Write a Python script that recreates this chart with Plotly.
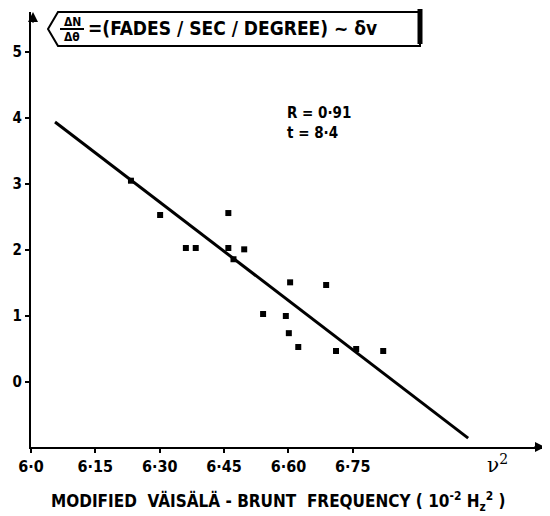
import plotly.graph_objects as go

# Data
freq = [6.233, 6.301, 6.460, 6.361, 6.384, 6.460, 6.497, 6.472, 6.604, 6.688,
        6.541, 6.594, 6.601, 6.623, 6.711, 6.758, 6.821]
fades = [3.05, 2.53, 2.56, 2.03, 2.03, 2.03, 2.01, 1.86, 1.51, 1.47,
         1.03, 1.0, 0.74, 0.53, 0.47, 0.50, 0.47]
fit_x = [6.056, 7.019]
fit_y = [3.94, -0.85]
x_ticks = [6.0, 6.15, 6.30, 6.45, 6.60, 6.75]
x_ticktext = ["6·0", "6·15", "6·30", "6·45", "6·60", "6·75"]
y_ticks = [0, 1, 2, 3, 4, 5]

OFF = 8  # page body margin
W, H = 550 - OFF, 516 - OFF
L, R, T, B = 31 - OFF, 5, 12 - OFF, 69
pw, ph = W - L - R, H - T - B

def px(x):
    return (x - OFF - L) / pw

def py(y):
    return (H - B - (y - OFF)) / ph

FONT = "DejaVu Sans Condensed, DejaVu Sans, Arial, sans-serif"

fig = go.Figure()
fig.add_trace(go.Scatter(x=fit_x, y=fit_y, mode="lines",
                         line=dict(color="black", width=3), hoverinfo="skip"))
fig.add_trace(go.Scatter(x=freq, y=fades, mode="markers",
                         marker=dict(symbol="square", size=6, color="black")))

fig.update_layout(
    width=W, height=H,
    margin=dict(l=L, r=R, t=T, b=B, autoexpand=False),
    paper_bgcolor="white", plot_bgcolor="white",
    showlegend=False,
    font=dict(family=FONT, color="black"),
    xaxis=dict(range=[6.0, 6.0 + pw / 429], tickvals=x_ticks, ticktext=x_ticktext,
               automargin=False,
               showgrid=False, zeroline=False, showline=True, linecolor="black",
               linewidth=2, ticks="outside", ticklen=4, tickwidth=2, tickcolor="black",
               tickfont=dict(size=16, family=FONT, weight="bold")),
    yaxis=dict(range=[(382 - 447) / 66, (382 - 12) / 66], tickvals=y_ticks,
               automargin=False,
               showgrid=False, zeroline=False, showline=True, linecolor="black",
               linewidth=2, ticks="outside", ticklen=4, tickwidth=2, tickcolor="black",
               tickfont=dict(size=15, family=FONT, weight="bold")),
)

# x-axis title
fig.add_annotation(x=px(278), y=py(501),
                   text="MODIFIED  VÄISÄLÄ - BRUNT  FREQUENCY ( 10<sup>-2</sup> H<sub>z</sub><sup>2</sup> )",
                   xanchor="center", yanchor="middle", xref="paper", yref="paper",
                   showarrow=False,
                   font=dict(family=FONT, size=17, color="black", weight="bold"))

# title box with pointed left end
path = (f"M {px(58)},{py(12)} L {px(420)},{py(12)} L {px(420)},{py(46)} "
        f"L {px(58)},{py(46)} L {px(48)},{py(29)} Z")
fig.add_shape(type="path", path=path, xref="paper", yref="paper",
              line=dict(color="black", width=2), fillcolor="white", layer="above")
fig.add_shape(type="line", xref="paper", yref="paper",
              x0=px(420), x1=px(420), y0=py(9), y1=py(44),
              line=dict(color="black", width=5))
fig.add_shape(type="line", xref="paper", yref="paper",
              x0=px(60), x1=px(84), y0=py(29), y1=py(29),
              line=dict(color="black", width=2))

ann = dict(xref="paper", yref="paper", showarrow=False,
           font=dict(family=FONT, size=12, color="black", weight="bold"))
fig.add_annotation(x=px(72), y=py(22), text="ΔN", xanchor="center", yanchor="middle", **ann)
fig.add_annotation(x=px(72), y=py(37), text="Δθ", xanchor="center", yanchor="middle", **ann)
fig.add_annotation(x=px(86), y=py(28), text="=(FADES / SEC / DEGREE) ~ δv",
                   xanchor="left", yanchor="middle", xref="paper", yref="paper",
                   showarrow=False,
                   font=dict(family=FONT, size=19, color="black", weight="bold"))

fig.add_annotation(x=px(285), y=py(113), text="R = 0·91", xanchor="left", yanchor="middle",
                   xref="paper", yref="paper", showarrow=False,
                   font=dict(family=FONT, size=15, color="black", weight="bold"))
fig.add_annotation(x=px(285), y=py(133), text="t = 8·4", xanchor="left", yanchor="middle",
                   xref="paper", yref="paper", showarrow=False,
                   font=dict(family=FONT, size=15, color="black", weight="bold"))

fig.add_annotation(x=px(497), y=py(464), text="ν<sup>2</sup>", xanchor="center", yanchor="middle",
                   xref="paper", yref="paper", showarrow=False,
                   font=dict(family="DejaVu Serif, serif", size=20, color="black"))

# axis arrowheads
fig.add_annotation(x=1.0, y=0, xref="paper", yref="paper", ax=-12, ay=0,
                   showarrow=True, arrowhead=2, arrowsize=1, arrowwidth=2,
                   arrowcolor="black", text="")
fig.add_annotation(x=px(33), y=1.0, xref="paper", yref="paper", ax=0, ay=12,
                   showarrow=True, arrowhead=2, arrowsize=1, arrowwidth=2,
                   arrowcolor="black", text="")

fig.write_html("out.html")
